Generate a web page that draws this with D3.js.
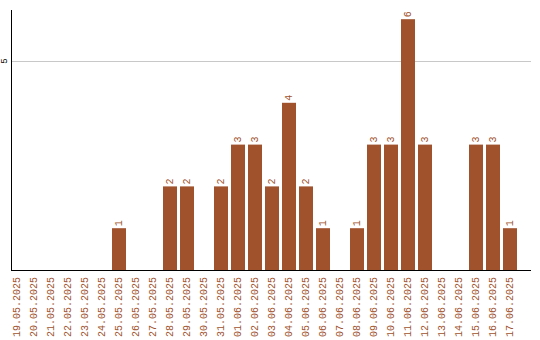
<!DOCTYPE html>
<html>
<head>
<meta charset="utf-8">
<script src="https://cdn.jsdelivr.net/npm/d3@7"></script>
<style>
  html, body { margin: 0; padding: 0; background: #fff; }
  svg { display: block; }
  text { font-family: "Liberation Mono", "DejaVu Sans Mono", monospace; font-size: 10px; }
</style>
</head>
<body>
<svg id="chart" width="540" height="340"></svg>
<script>
const dates = [
    "19.05.2025", "20.05.2025", "21.05.2025", "22.05.2025", "23.05.2025", "24.05.2025",
    "25.05.2025", "26.05.2025", "27.05.2025", "28.05.2025", "29.05.2025", "30.05.2025",
    "31.05.2025", "01.06.2025", "02.06.2025", "03.06.2025", "04.06.2025", "05.06.2025",
    "06.06.2025", "07.06.2025", "08.06.2025", "09.06.2025", "10.06.2025", "11.06.2025",
    "12.06.2025", "13.06.2025", "14.06.2025", "15.06.2025", "16.06.2025", "17.06.2025",
];
const counts = [0, 0, 0, 0, 0, 0, 1, 0, 0, 2, 2, 0, 2, 3, 3, 2, 4, 2, 1, 0, 1, 3, 3, 6, 3, 0, 0, 3, 3, 1];
const yTicks = [5];

const barColor = "#a0522d";

function renderChart() {
    const svg = d3.select("#chart");
    const left = 11, right = 531, top = 10, bottom = 270;

    // 17px per day, 14px bars
    const x = d3.scaleBand()
        .domain(dates)
        .range([8.5, 518.5])
        .paddingInner(3 / 17)
        .paddingOuter(1.5 / 17);

    const y = d3.scaleLinear()
        .domain([0, 6.22])
        .range([bottom, top]);

    // gridlines
    svg.append("g")
        .selectAll("line")
        .data(yTicks)
        .enter()
        .append("line")
        .attr("x1", left)
        .attr("x2", right)
        .attr("y1", (d) => Math.round(y(d)) + 0.5)
        .attr("y2", (d) => Math.round(y(d)) + 0.5)
        .attr("stroke", "#c8c8c8");

    svg.append("g")
        .selectAll("text")
        .data(yTicks)
        .enter()
        .append("text")
        .attr("transform", (d) => `translate(5, ${y(d)}) rotate(-90)`)
        .attr("text-anchor", "middle")
        .attr("dominant-baseline", "middle")
        .attr("fill", "#000")
        .style("font-size", "9px")
        .text((d) => d);

    // bars
    const data = dates.map((d, i) => ({ date: d, count: counts[i] }));
    svg.append("g")
        .selectAll("rect")
        .data(data.filter((d) => d.count > 0))
        .enter()
        .append("rect")
        .attr("x", (d) => x(d.date))
        .attr("y", (d) => y(d.count))
        .attr("width", x.bandwidth())
        .attr("height", (d) => bottom - y(d.count))
        .attr("fill", barColor);

    // value labels
    svg.append("g")
        .selectAll("text")
        .data(data.filter((d) => d.count > 0))
        .enter()
        .append("text")
        .attr("transform", (d) => `translate(${x(d.date) + x.bandwidth() / 2}, ${y(d.count) - 2}) rotate(-90)`)
        .attr("text-anchor", "start")
        .attr("dominant-baseline", "middle")
        .attr("fill", barColor)
        .text((d) => d.count);

    // axis lines
    svg.append("line")
        .attr("x1", left + 0.5).attr("x2", left + 0.5)
        .attr("y1", top).attr("y2", bottom)
        .attr("stroke", "#000");
    svg.append("line")
        .attr("x1", left).attr("x2", right)
        .attr("y1", bottom + 0.5).attr("y2", bottom + 0.5)
        .attr("stroke", "#000");

    // x labels
    svg.append("g")
        .selectAll("text")
        .data(dates)
        .enter()
        .append("text")
        .attr("transform", (d) => `translate(${x(d) + x.bandwidth() / 2}, 277) rotate(-90)`)
        .attr("text-anchor", "end")
        .attr("dominant-baseline", "middle")
        .attr("fill", barColor)
        .text((d) => d);
}

renderChart();
</script>
</body>
</html>
